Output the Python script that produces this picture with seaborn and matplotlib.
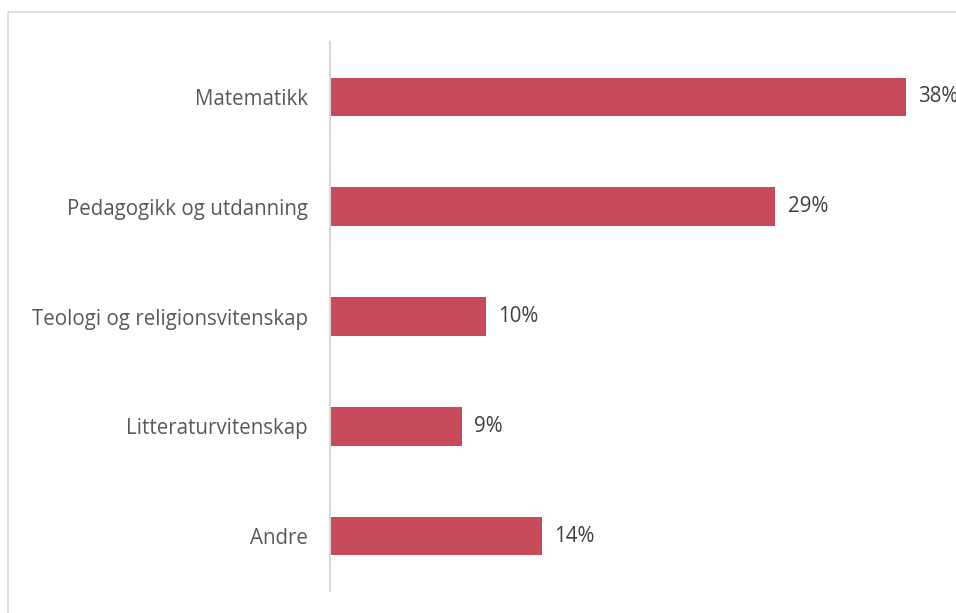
import matplotlib
matplotlib.use("Agg")
import matplotlib.pyplot as plt
import seaborn as sns
import pandas as pd
from matplotlib.patches import Rectangle

categories = ["Matematikk", "Pedagogikk og utdanning", "Teologi og religionsvitenskap",
              "Litteraturvitenskap", "Andre"]
values = [0.38, 0.294, 0.103, 0.087, 0.14]

df = pd.DataFrame({"kategori": categories, "andel": values})

sns.set_theme(style="white")
plt.rcParams['font.family'] = ['Open Sans', 'DejaVu Sans']

W, H = 956, 613
fig = plt.figure(figsize=(W / 100, H / 100), dpi=100)
ax = fig.add_axes([330 / W, 1 - 591 / H, (W - 330) / W, (591 - 42) / H])

bar_color = "#C64A5A"
sns.barplot(data=df, y="kategori", x="andel", orient="h", color=bar_color,
            width=0.35, ax=ax, saturation=1, linewidth=0)

ax.set_xlim(0, (W - 330) / 1515)
ax.set_ylim(4.5, -0.5)
ax.set_xlabel("")
ax.set_ylabel("")
ax.set_xticks([])
for s in ["top", "right", "bottom"]:
    ax.spines[s].set_visible(False)
ax.spines["left"].set_color("#D9D9D9")
ax.spines["left"].set_linewidth(1.5)
ax.tick_params(axis="y", length=0, pad=16, labelsize=14.8, labelcolor="#595959")

for i, v in enumerate(values):
    ax.annotate(f"{v:.0%}", xy=(v, i), xytext=(9, 0), textcoords="offset points",
                ha="left", va="center", fontsize=14.8, color="#404040",
                annotation_clip=False)

fig.patches.append(Rectangle((8 / W, -0.1), 1.2, 1 - 12 / H + 0.1,
                             transform=fig.transFigure, fill=False,
                             edgecolor="#D9D9D9", linewidth=1.2, zorder=0))

fig.savefig("out.png", dpi=100)
